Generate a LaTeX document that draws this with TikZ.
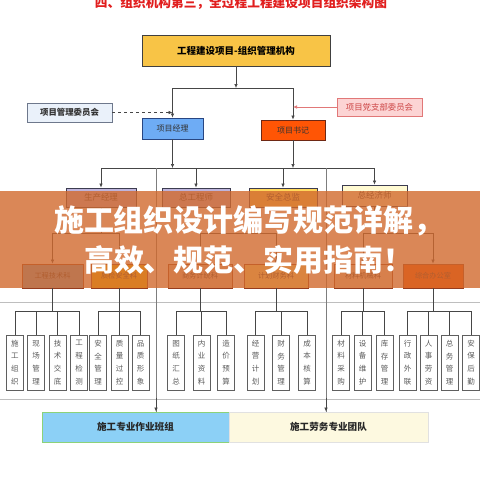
\documentclass[tikz,border=0pt]{standalone}
\usepackage{fontspec}
\newfontfamily\cjk{Noto Sans CJK SC}
\usetikzlibrary{arrows.meta,calc}
\definecolor{topfill}{RGB}{248,196,70}
\definecolor{linec}{RGB}{70,70,70}
\definecolor{cmtfill}{RGB}{234,241,250}
\definecolor{cmtdraw}{RGB}{110,120,140}
\definecolor{partyfill}{RGB}{252,212,212}
\definecolor{partydraw}{RGB}{225,120,120}
\definecolor{partytext}{RGB}{205,70,70}
\definecolor{pmfill}{RGB}{110,172,245}
\definecolor{pmdraw}{RGB}{40,70,130}
\definecolor{secfill}{RGB}{255,85,5}
\definecolor{secdraw}{RGB}{110,40,20}
\definecolor{lav}{RGB}{190,180,220}
\definecolor{goldb}{RGB}{255,215,90}
\definecolor{pyel}{RGB}{255,250,210}
\definecolor{rtwo}{RGB}{60,60,80}
\definecolor{ua}{RGB}{120,170,210}
\definecolor{ub}{RGB}{255,205,0}
\definecolor{uc}{RGB}{230,200,180}
\definecolor{ud}{RGB}{255,240,140}
\definecolor{ue}{RGB}{240,220,200}
\definecolor{uf}{RGB}{255,80,0}
\definecolor{rthree}{RGB}{150,60,30}
\definecolor{vgrey}{RGB}{95,95,95}
\definecolor{vtext}{RGB}{90,90,90}
\definecolor{sepgrey}{RGB}{190,190,190}
\definecolor{longgrey}{RGB}{125,125,125}
\definecolor{blfill}{RGB}{140,208,246}
\definecolor{bldraw}{RGB}{140,210,120}
\definecolor{brfill}{RGB}{253,249,224}
\definecolor{brdraw}{RGB}{225,225,225}
\definecolor{bannerc}{RGB}{209,105,46}
\definecolor{titlered}{RGB}{225,30,30}
\newcommand\vcell[3]{\node[vbox] (#1) at (#2,362.5) {#3};}
\begin{document}
\begin{tikzpicture}[x=1pt,y=-1pt,font=\cjk,
  box/.style={draw, line width=0.8pt, inner sep=0pt, align=center},
  conn/.style={draw=linec, line width=0.7pt},
  arr/.style={conn, -{Latex[length=4pt,width=3.6pt]}},
  rowtwo/.style={box, draw=rtwo, minimum width=68pt, minimum height=19pt, text=black!80, font=\cjk\fontsize{8.5}{9}\selectfont},
  rowthree/.style={box, draw=rthree, minimum height=24pt, text=black!80, font=\cjk\fontsize{7.2}{8}\selectfont},
  vbox/.style={draw=vgrey, line width=0.7pt, fill=white, minimum width=17pt, minimum height=55pt, inner sep=0pt, align=center, text=vtext, font=\cjk\fontsize{7.5}{12.8}\selectfont},
  sep/.style={draw=sepgrey, line width=0.6pt},
  longl/.style={draw=longgrey, line width=0.6pt}]
\clip (0,0) rectangle (480,480);
\fill[white] (0,0) rectangle (480,480);

% title (cut at top)
\node[text=titlered, font=\cjk\bfseries\fontsize{12.7}{13}\selectfont, inner sep=0pt] (title) at (241,2.5) {四、组织机构第三，全过程工程建设项目组织架构图};

% top levels
\node[box, draw=black!75, fill=topfill, minimum width=188pt, minimum height=31pt, font=\cjk\bfseries\fontsize{9.5}{10}\selectfont] (top) at (236,50.5) {工程建设项目-组织管理机构};
\node[box, draw=cmtdraw, fill=cmtfill, minimum width=85pt, minimum height=19pt, font=\cjk\bfseries\fontsize{8.4}{9}\selectfont, text=black!80] (cmt) at (69.5,112.5) {项目管理委员会};
\node[box, draw=partydraw, fill=partyfill, minimum width=85pt, minimum height=18pt, font=\cjk\fontsize{8.4}{9}\selectfont, text=partytext] (party) at (379.5,107) {项目党支部委员会};
\node[box, draw=pmdraw, fill=pmfill, minimum width=61pt, minimum height=21pt, font=\cjk\fontsize{8}{9}\selectfont, text=black!80] (pm) at (172.5,128.5) {项目经理};
\node[box, draw=secdraw, fill=secfill, minimum width=64pt, minimum height=20pt, font=\cjk\fontsize{8}{9}\selectfont, text=black!80] (sec) at (293,130) {项目书记};

\coordinate (j1) at (236,88);
\draw[arr] (top.south) -- (j1);
\draw[conn] (pm.north |- j1) -- (sec.north |- j1);
\draw[arr] (pm.north |- j1) -- (pm.north);
\draw[arr] (sec.north |- j1) -- (sec.north);
\coordinate (cmtend) at (172.5,112.5);
\draw[conn, dashed, -{Latex[length=4pt,width=3.6pt]}] (cmt.east) -- (cmtend);
\coordinate (partyend) at (293,107);
\draw[draw=partydraw, line width=0.7pt, -{Latex[length=4pt,width=3.6pt]}] (party.west) -- (partyend);

% second level
\node[rowtwo, fill=lav, minimum width=70pt] (b2a) at (101,197.5) {生产经理};
\node[rowtwo, fill=lav] (b2b) at (196,197.5) {总工程师};
\node[rowtwo, fill=goldb] (b2c) at (283,197.5) {安全总监};
\node[rowtwo, fill=pyel, minimum width=65pt, minimum height=21pt] (b2d) at (374.5,195.5) {总经济师};

\coordinate (bus2l) at (101,168);
\coordinate (bus2r) at (374.5,168);
\draw[arr] (pm.south) -- (pm.south |- bus2l);
\draw[arr] (sec.south) -- (sec.south |- bus2l);
\draw[conn] (bus2l) -- (bus2r);
\foreach \n in {b2a,b2b,b2c,b2d} \draw[arr] (\n.north |- bus2l) -- (\n.north);

% long verticals
\coordinate (lv1) at (156,168);
\coordinate (lv2) at (326,168);

% third level
\node[rowthree, fill=ua, minimum width=61pt] (b3a) at (52.5,276) {工程技术科};
\node[rowthree, fill=ub, minimum width=56pt] (b3b) at (119,276) {质检安全科};
\node[rowthree, fill=uc, minimum width=64pt] (b3c) at (200,276) {商务计统科};
\node[rowthree, fill=ud, minimum width=64pt] (b3d) at (276,276) {计划财务科};
\node[rowthree, fill=ue, minimum width=58pt] (b3e) at (363,276) {材料机械科};
\node[rowthree, fill=uf, minimum width=60pt] (b3f) at (433,276) {综合办公室};

\coordinate (y3) at (0,233);
\draw[conn] (b2a.south) -- (b2a.south |- y3);
\draw[conn] (b3a.north |- y3) -- (b3b.north |- y3);
\draw[arr] (b3a.north |- y3) -- (b3a.north);
\draw[arr] (b3b.north |- y3) -- (b3b.north);
\draw[conn] (b2b.south) -- (b2b.south |- y3);
\draw[conn] (b3c.north |- y3) -- (b3d.north |- y3);
\draw[arr] (b3c.north |- y3) -- (b3c.north);
\draw[arr] (b3d.north |- y3) -- (b3d.north);
\draw[conn] (b2d.south) -- (b2d.south |- y3);
\draw[conn] (b3e.north |- y3) -- (b3f.north |- y3);
\draw[arr] (b3e.north |- y3) -- (b3e.north);
\draw[arr] (b3f.north |- y3) -- (b3f.north);

% separators
\draw[sep] (0,302) -- (480,302);
\draw[sep] (0,399) -- (480,399);

% fourth level
\vcell{c1}{15}{施\\工\\组\\织}
\vcell{c2}{36}{现\\场\\管\\理}
\vcell{c3}{57.5}{技\\术\\交\\底}
\vcell{c4}{79}{工\\程\\检\\测}
\vcell{c5}{98}{安\\全\\管\\理}
\vcell{c6}{119.5}{质\\量\\过\\控}
\vcell{c7}{140.5}{品\\质\\形\\象}
\vcell{c8}{176}{图\\纸\\汇\\总}
\vcell{c9}{201.5}{内\\业\\资\\料}
\vcell{c10}{226}{造\\价\\预\\算}
\vcell{c11}{255.5}{经\\营\\计\\划}
\vcell{c12}{281}{财\\务\\管\\理}
\vcell{c13}{307}{成\\本\\核\\算}
\vcell{c14}{341}{材\\料\\采\\购}
\vcell{c15}{362.5}{设\\备\\维\\护}
\vcell{c16}{384.5}{库\\存\\管\\理}
\vcell{c17}{407.5}{行\\政\\外\\联}
\vcell{c18}{428.5}{人\\事\\劳\\资}
\vcell{c19}{449.5}{总\\务\\管\\理}
\vcell{c20}{471}{安\\保\\后\\勤}

\coordinate (y4) at (0,311);
\draw[conn] (b3a.south) -- (b3a.south |- y4);
\draw[conn] (c1.north |- y4) -- (c4.north |- y4);
\foreach \n in {c1,c2,c3,c4} \draw[conn] (\n.north |- y4) -- (\n.north);
\draw[conn] (b3b.south) -- (b3b.south |- y4);
\draw[conn] (c5.north |- y4) -- (c7.north |- y4);
\foreach \n in {c5,c6,c7} \draw[conn] (\n.north |- y4) -- (\n.north);
\draw[conn] (b3c.south) -- (b3c.south |- y4);
\draw[conn] (c8.north |- y4) -- (c10.north |- y4);
\foreach \n in {c8,c9,c10} \draw[conn] (\n.north |- y4) -- (\n.north);
\draw[conn] (b3d.south) -- (b3d.south |- y4);
\draw[conn] (c11.north |- y4) -- (c13.north |- y4);
\foreach \n in {c11,c12,c13} \draw[conn] (\n.north |- y4) -- (\n.north);
\draw[conn] (b3e.south) -- (b3e.south |- y4);
\draw[conn] (c14.north |- y4) -- (c16.north |- y4);
\foreach \n in {c14,c15,c16} \draw[conn] (\n.north |- y4) -- (\n.north);
\draw[conn] (b3f.south) -- (b3f.south |- y4);
\draw[conn] (c17.north |- y4) -- (c20.north |- y4);
\foreach \n in {c17,c18,c19,c20} \draw[conn] (\n.north |- y4) -- (\n.north);

% bottom teams
\node[box, draw=bldraw, fill=blfill, minimum width=187pt, minimum height=30pt, font=\cjk\bfseries\fontsize{9.6}{10}\selectfont, text=black!85] (teamA) at (135.5,427) {施工专业作业班组};
\node[box, draw=brdraw, fill=brfill, minimum width=199pt, minimum height=30pt, font=\cjk\bfseries\fontsize{9.6}{10}\selectfont, text=black!85] (teamB) at (328.5,427) {施工劳务专业团队};

\draw[longl] (lv1) -- (lv1 |- teamA.north);
\draw[arr] ($(lv1 |- teamA.north)+(0,-14)$) -- (lv1 |- teamA.north);
\draw[longl] (lv2) -- (lv2 |- teamB.north);
\draw[arr] ($(lv2 |- teamB.north)+(0,-14)$) -- (lv2 |- teamB.north);

% banner overlay
\fill[bannerc, fill opacity=0.8] (0,191) rectangle (480,288);
\node[text=white, inner sep=0pt, font=\cjk\bfseries\fontsize{30}{32}\selectfont] (bt1) at (249,221) {施工组织设计编写规范详解，};
\node[text=white, inner sep=0pt, font=\cjk\bfseries\fontsize{30}{32}\selectfont] (bt2) at (249,259.5) {高效、规范、实用指南！};
\end{tikzpicture}
\end{document}
